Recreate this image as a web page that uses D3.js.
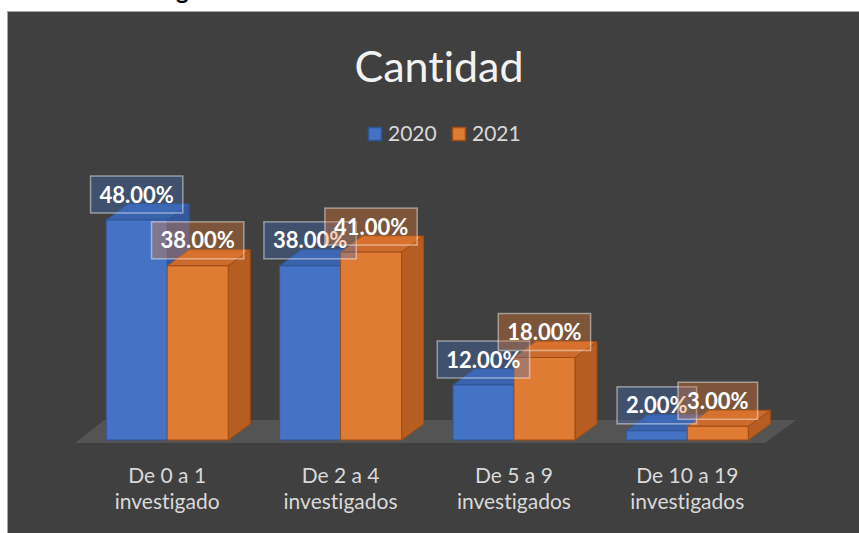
<!DOCTYPE html>
<html>
<head>
<meta charset="utf-8">
<script src="https://cdn.jsdelivr.net/npm/d3@7"></script>
<style>
  html, body { margin: 0; padding: 0; background: #ffffff; }
  svg { display: block; }
  text { font-variant-ligatures: none; font-feature-settings: "liga" 0; }
</style>
</head>
<body>
<svg id="chart" width="859" height="533"></svg>
<script>
// chart values
var categories = ["De 0 a 1|investigado", "De 2 a 4|investigados", "De 5 a 9|investigados", "De 10 a 19|investigados"];
var seriesNames = ["2020", "2021"];
var values2020 = [0.48, 0.38, 0.12, 0.02];
var values2021 = [0.38, 0.41, 0.18, 0.03];

var W = 859, H = 533;
var svg = d3.select("#chart");
var font = "Lato, 'Open Sans', sans-serif";

// colours per series: front, top, side, edge, label fill
var colors = [
  { front: "#4472c4", top: "#3a63ae", side: "#34589c", edge: "#2f5597", label: "rgba(68,114,196,0.35)" },
  { front: "#e07b34", top: "#cc6b2b", side: "#b65d22", edge: "#a34d12", label: "rgba(237,125,49,0.35)" }
];

// cut-off heading above the chart
svg.append("text")
  .attr("x", 176).attr("y", -1)
  .attr("font-family", font)
  .attr("font-weight", "bold")
  .attr("font-size", "24px")
  .attr("fill", "#000")
  .text("g");

// chart background
svg.append("rect")
  .attr("x", 7.5).attr("y", 11.5)
  .attr("width", W).attr("height", H)
  .style("fill", "#404040")
  .style("stroke", "#a6a6a6")
  .style("stroke-width", 1);

// title
svg.append("text")
  .attr("x", 439).attr("y", 82)
  .attr("text-anchor", "middle")
  .attr("font-family", font)
  .attr("font-size", "43px")
  .attr("fill", "#f2f2f2")
  .text("Cantidad");

// legend
var legendX = [368, 452];
seriesNames.forEach(function(s, i) {
  svg.append("rect")
    .attr("x", legendX[i] + 0.5).attr("y", 127.5)
    .attr("width", 13).attr("height", 13)
    .style("fill", colors[i].front)
    .style("stroke", colors[i].edge)
    .style("stroke-width", 1.5);
  svg.append("text")
    .attr("x", legendX[i] + 20).attr("y", 141)
    .attr("font-family", font)
    .attr("font-size", "21px")
    .attr("fill", "#d9d9d9")
    .text(s);
});

// scales
var x = d3.scaleBand().domain(categories).range([80.5, 774]);
var y = d3.scaleLinear().domain([0, 0.48]).range([440, 220]);
var barW = 61, dx = 22, dy = -16;
var base = y(0);

// floor
svg.append("polygon")
  .attr("points", [[75, 443], [765, 443], [796, 420], [104, 420]].map(function(p) { return p.join(","); }).join(" "))
  .style("fill", "#575757")
  .style("opacity", 0.9);

var allValues = [values2020, values2021];

// bars, drawn left to right
var barsGroup = svg.append("g");
categories.forEach(function(c, ci) {
  var center = x(c) + x.bandwidth() / 2;
  allValues.forEach(function(vals, si) {
    var x0 = center - barW + si * barW;
    var yt = y(vals[ci]);
    var col = colors[si];
    var g = barsGroup.append("g");
    // side face
    g.append("polygon")
      .attr("points", [[x0 + barW, yt], [x0 + barW + dx, yt + dy], [x0 + barW + dx, base + dy], [x0 + barW, base]].join(" "))
      .style("fill", col.side).style("stroke", col.edge).style("stroke-width", 1);
    // top face
    g.append("polygon")
      .attr("points", [[x0, yt], [x0 + barW, yt], [x0 + barW + dx, yt + dy], [x0 + dx, yt + dy]].join(" "))
      .style("fill", col.top).style("stroke", col.edge).style("stroke-width", 1);
    // front face
    g.append("rect")
      .attr("x", x0).attr("y", yt)
      .attr("width", barW).attr("height", base - yt)
      .style("fill", col.front).style("stroke", col.edge).style("stroke-width", 1);
  });
});

// data labels
var labelsGroup = svg.append("g");
categories.forEach(function(c, ci) {
  var center = x(c) + x.bandwidth() / 2;
  allValues.forEach(function(vals, si) {
    var cx = center - barW / 2 + si * barW;
    var cy = y(vals[ci]) - 25.5;
    var g = labelsGroup.append("g");
    var box = g.append("rect");
    var t = g.append("text")
      .attr("x", cx).attr("y", cy + 8)
      .attr("text-anchor", "middle")
      .attr("font-family", font)
      .attr("font-weight", "bold")
      .attr("font-size", "22px")
      .attr("fill", "#ffffff")
      .text(d3.format(".2%")(vals[ci]));
    var tw = t.node().getComputedTextLength();
    var bw = tw + 18;
    box.attr("x", cx - bw / 2).attr("y", cy - 18.5)
      .attr("width", bw).attr("height", 37)
      .style("fill", colors[si].label)
      .style("stroke", "rgba(255,255,255,0.45)")
      .style("stroke-width", 1.5);
  });
});

// category labels
categories.forEach(function(c) {
  var lines = c.split("|");
  var t = svg.append("text")
    .attr("x", x(c) + x.bandwidth() / 2)
    .attr("y", 483)
    .attr("text-anchor", "middle")
    .attr("font-family", font)
    .attr("font-size", "21px")
    .attr("fill", "#d9d9d9");
  lines.forEach(function(l, i) {
    t.append("tspan")
      .attr("x", x(c) + x.bandwidth() / 2)
      .attr("dy", i == 0 ? 0 : 26)
      .text(l);
  });
});
</script>
</body>
</html>
